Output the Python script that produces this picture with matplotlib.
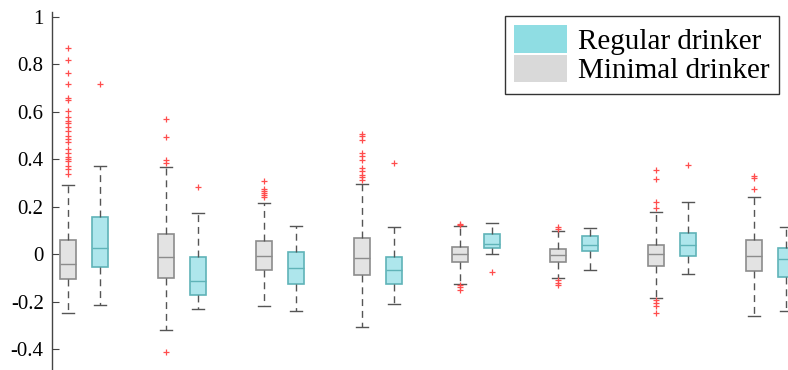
import matplotlib
matplotlib.use("Agg")
import matplotlib.pyplot as plt
from matplotlib.patches import Patch

plt.rcParams['font.family'] = ['Liberation Serif', 'DejaVu Serif']

groups = ["Minimal drinker", "Regular drinker"]
n_pairs = 8

# Five-number summaries per box: [whisker_low, q1, median, q3, whisker_high]
minimal_stats = [
    [-0.247, -0.107, -0.041, 0.060, 0.289],
    [-0.321, -0.100, -0.013, 0.086, 0.366],
    [-0.218, -0.065, -0.008, 0.055, 0.213],
    [-0.306, -0.086, -0.015, 0.067, 0.293],
    [-0.124, -0.034, 0.000, 0.028, 0.118],
    [-0.102, -0.032, -0.003, 0.022, 0.098],
    [-0.184, -0.051, -0.001, 0.039, 0.176],
    [-0.261, -0.072, -0.008, 0.058, 0.241],
]
regular_stats = [
    [-0.216, -0.055, 0.024, 0.154, 0.372],
    [-0.233, -0.173, -0.115, -0.011, 0.174],
    [-0.239, -0.126, -0.058, 0.008, 0.118],
    [-0.212, -0.124, -0.065, -0.013, 0.115],
    [-0.001, 0.025, 0.041, 0.086, 0.132],
    [-0.067, 0.014, 0.039, 0.077, 0.109],
    [-0.083, -0.007, 0.037, 0.087, 0.219],
    [-0.239, -0.095, -0.022, 0.027, 0.115],
]
minimal_outliers = [
    [0.869, 0.815, 0.761, 0.717, 0.658, 0.648, 0.602, 0.575, 0.561, 0.550,
     0.536, 0.518, 0.497, 0.483, 0.473, 0.441, 0.424, 0.410, 0.399, 0.392,
     0.372, 0.357, 0.337],
    [0.567, 0.494, 0.396, 0.382, -0.414],
    [0.307, 0.274, 0.265, 0.255, 0.247, 0.239],
    [0.505, 0.497, 0.480, 0.427, 0.413, 0.396, 0.361, 0.351, 0.333, 0.323,
     0.312],
    [0.127, 0.122, -0.132, -0.140, -0.150],
    [0.115, 0.104, -0.111, -0.121, -0.129],
    [0.352, 0.316, 0.219, 0.195, -0.194, -0.208, -0.219, -0.247],
    [0.327, 0.321, 0.272],
]
regular_outliers = [
    [0.717],
    [0.281],
    [],
    [0.382],
    [-0.076],
    [],
    [0.376],
    [],
]

yticks = [-0.4, -0.2, 0, 0.2, 0.4, 0.6, 0.8, 1]
ytick_labels = ["-0.4", "-0.2", "0", "0.2", "0.4", "0.6", "0.8", "1"]

legend_cyan = "#8fdde3"
legend_gray = "#d9d9d9"


def to_bxp(stats, outliers):
    out = []
    for (lo, q1, med, q3, hi), fl in zip(stats, outliers):
        out.append(dict(whislo=lo, q1=q1, med=med, q3=q3, whishi=hi, fliers=fl))
    return out


fig = plt.figure(figsize=(7.88, 3.70), dpi=100)
ax = fig.add_axes([52 / 788, 0.0, 736 / 788, 358 / 370])

pair_gap = 0.327
box_w = 0.17
cap_w = 0.12

styles = {
    "Minimal drinker": dict(face="#e3e3e3", edge="#8c8c8c", median="#8c8c8c"),
    "Regular drinker": dict(face="#aee6ec", edge="#5fb3b8", median="#5fb3b8"),
}

for name, stats, outl, offset in [
    ("Minimal drinker", minimal_stats, minimal_outliers, 0.0),
    ("Regular drinker", regular_stats, regular_outliers, pair_gap),
]:
    st = styles[name]
    pos = [k + offset for k in range(n_pairs)]
    ax.bxp(
        to_bxp(stats, outl),
        positions=pos,
        widths=box_w,
        capwidths=cap_w,
        patch_artist=True,
        boxprops=dict(facecolor=st["face"], edgecolor=st["edge"], linewidth=1.2),
        medianprops=dict(color=st["median"], linewidth=1.0),
        whiskerprops=dict(color="#555555", linewidth=1.0, linestyle=(0, (5, 3.5))),
        capprops=dict(color="#555555", linewidth=1.0),
        flierprops=dict(marker="+", markeredgecolor="#ff4d4d", markersize=5,
                        markeredgewidth=0.9, linestyle="none"),
        manage_ticks=False,
    )

ax.set_xlim(-0.163, 7.347)
ax.set_ylim(-0.488, 1.019)
ax.set_yticks(yticks)
ax.set_yticklabels(ytick_labels, fontfamily=['Liberation Serif', 'DejaVu Serif'])
ax.set_xticks([])

for side in ["top", "right", "bottom"]:
    ax.spines[side].set_visible(False)
ax.spines["left"].set_color("#444444")
ax.spines["left"].set_linewidth(1.0)
ax.tick_params(axis="y", direction="in", length=5, width=0.8, color="#444444",
               labelsize=15, labelcolor="black", pad=6)

handles = [Patch(facecolor=legend_cyan, edgecolor="none"),
           Patch(facecolor=legend_gray, edgecolor="none")]
leg = ax.legend(handles, ["Regular drinker", "Minimal drinker"],
                loc="upper right", bbox_to_anchor=(779 / 788, 1 - 16 / 370),
                bbox_transform=fig.transFigure,
                fontsize=21, frameon=True, fancybox=False, framealpha=1,
                handlelength=1.82, handleheight=1.06, labelspacing=0.0,
                handletextpad=0.38, borderpad=0.32, borderaxespad=0)
leg.get_frame().set_edgecolor("#333333")
leg.get_frame().set_linewidth(1.0)

fig.savefig("out.png", dpi=100)
